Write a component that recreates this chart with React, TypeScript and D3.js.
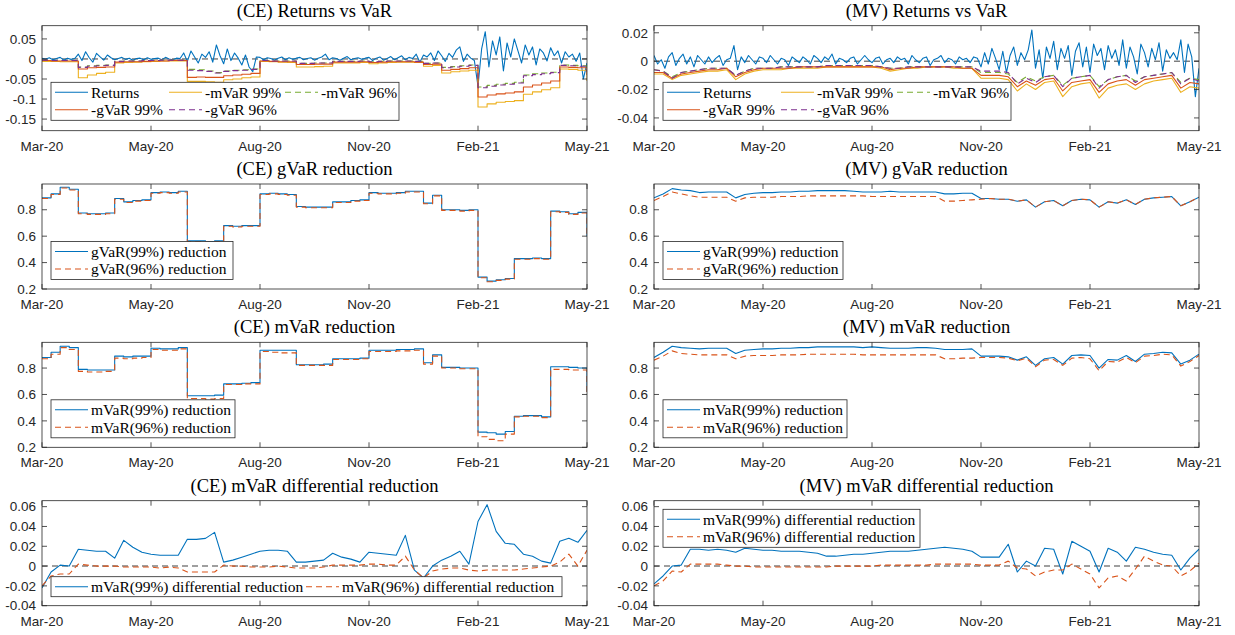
import React from "react";
import * as d3 from "d3";

// trading-day axis: 0..300, ticks every 60 days
const tickDays = [0, 60, 120, 180, 240, 300];
const tickLabels = ["Mar-20", "May-20", "Aug-20", "Nov-20", "Feb-21", "May-21"];
const RET_STEP = 2; // returns sampled every 2 days
const STEP = 5; // other series sampled every 5 days

// ---- (CE) returns vs VaR ----
const ceReturns = [
  0.002, -0.001, 0.003, -0.002, 0.001, 0.004, -0.003, 0.002, -0.001, 0.001,
  0.012, -0.004, 0.018, 0.003, -0.008, 0.014, 0.005, -0.003, 0.01,
  0.003, -0.002, 0.001, 0.004, -0.001, 0.002, -0.003, 0.001, 0.002, -0.002,
  0.003, -0.001, 0.001, 0.002, -0.002, 0.004, 0.0, -0.002, 0.002, 0.001,
  0.015, -0.006, 0.02, 0.005, -0.01, 0.012, 0.004, 0.018, -0.008, 0.035,
  0.008, -0.012, 0.025, -0.004, 0.015, 0.002, -0.015, 0.01, -0.02, -0.032, 0.005,
  0.004, -0.002, 0.003, 0.001, -0.003, 0.002, 0.005, -0.002, 0.003, -0.001,
  0.002, 0.004, -0.002, 0.001, 0.003, -0.003, 0.002, 0.005, 0.012, -0.002,
  0.003, 0.001, -0.003, 0.002, 0.006, -0.002, 0.001, 0.003, -0.001, 0.002,
  0.004, -0.004, 0.002, 0.005, -0.003, 0.001, 0.006, -0.002, 0.003, 0.008, -0.002, 0.004, 0.001,
  0.012, -0.008, 0.01, 0.005, 0.015, -0.004, 0.02, 0.008, -0.006, 0.014,
  0.004, 0.022, 0.03, -0.006, 0.012, 0.002, -0.004,
  -0.068, 0.025, 0.068, -0.02, 0.045, 0.01, 0.055, -0.03, 0.04, 0.005,
  0.05, 0.02, -0.01, 0.035, 0.01, 0.03, -0.015, 0.025, 0.015, -0.005,
  0.028, 0.008, 0.02, -0.01, 0.018, 0.005, 0.012, -0.006, 0.015, -0.05, -0.01,
];
const ceMVaR99 = [
  -0.006, -0.006, -0.007, -0.007, -0.047, -0.040, -0.036, -0.033, -0.010, -0.009,
  -0.008, -0.007, -0.006, -0.005, -0.005, -0.005, -0.056, -0.056, -0.057, -0.058,
  -0.052, -0.050, -0.047, -0.045, -0.006, -0.007, -0.008, -0.009, -0.020, -0.020,
  -0.019, -0.018, -0.010, -0.010, -0.010, -0.009, -0.012, -0.010, -0.009, -0.008,
  -0.008, -0.009, -0.018, -0.016, -0.035, -0.032, -0.030, -0.028, -0.120, -0.112,
  -0.108, -0.106, -0.104, -0.088, -0.082, -0.077, -0.072, -0.025, -0.026, -0.028,
  -0.055,
];
const ceMVaR96 = [
  -0.003, -0.004, -0.004, -0.004, -0.020, -0.017, -0.016, -0.015, -0.006, -0.005,
  -0.005, -0.004, -0.004, -0.003, -0.003, -0.003, -0.026, -0.027, -0.030, -0.034,
  -0.030, -0.028, -0.027, -0.025, -0.004, -0.005, -0.005, -0.005, -0.011, -0.011,
  -0.010, -0.010, -0.006, -0.006, -0.006, -0.005, -0.007, -0.006, -0.005, -0.005,
  -0.005, -0.006, -0.011, -0.010, -0.021, -0.019, -0.017, -0.015, -0.070, -0.066,
  -0.063, -0.061, -0.058, -0.040, -0.037, -0.035, -0.033, -0.015, -0.016, -0.017,
  -0.030,
];
const ceGVaR99 = [
  -0.004, -0.005, -0.005, -0.005, -0.025, -0.022, -0.021, -0.020, -0.008, -0.007,
  -0.007, -0.006, -0.005, -0.005, -0.004, -0.004, -0.046, -0.045, -0.046, -0.046,
  -0.042, -0.040, -0.038, -0.036, -0.005, -0.006, -0.007, -0.007, -0.014, -0.014,
  -0.013, -0.013, -0.008, -0.008, -0.008, -0.007, -0.009, -0.008, -0.007, -0.007,
  -0.007, -0.008, -0.014, -0.013, -0.028, -0.026, -0.024, -0.022, -0.095, -0.090,
  -0.087, -0.085, -0.082, -0.070, -0.065, -0.060, -0.055, -0.020, -0.021, -0.022,
  -0.040,
];
const ceGVaR96 = [
  -0.003, -0.004, -0.004, -0.004, -0.021, -0.018, -0.017, -0.016, -0.006, -0.005,
  -0.005, -0.004, -0.004, -0.003, -0.003, -0.003, -0.028, -0.029, -0.031, -0.035,
  -0.031, -0.029, -0.028, -0.026, -0.004, -0.005, -0.005, -0.005, -0.011, -0.011,
  -0.010, -0.010, -0.006, -0.006, -0.006, -0.005, -0.007, -0.006, -0.005, -0.005,
  -0.005, -0.006, -0.011, -0.010, -0.022, -0.020, -0.018, -0.016, -0.072, -0.068,
  -0.065, -0.063, -0.060, -0.042, -0.039, -0.037, -0.034, -0.016, -0.017, -0.018,
  -0.032,
];

// ---- (MV) returns vs VaR ----
const mvReturns = [
  0.004, -0.002, 0.001, -0.005, 0.003, 0.006, -0.003, 0.002, 0.005, -0.002,
  0.003, -0.004, 0.004, 0.001, -0.002, 0.003, -0.001, 0.002, 0.004, -0.003,
  0.001, 0.002, 0.011, -0.006, 0.003, -0.001, 0.004, 0.001, -0.002, 0.003,
  0.002, -0.001, 0.004, 0.001, -0.002, 0.002, 0.001, -0.003, 0.003, 0.001,
  -0.001, 0.003, 0.001, -0.002, 0.004,
  0.002, -0.001, 0.003, 0.001, 0.005, -0.002, 0.002, 0.001, -0.001, 0.002,
  0.003, -0.002, 0.001, 0.004, 0.001, -0.001, 0.002, 0.003, -0.002, 0.001,
  0.002, -0.001, 0.003, 0.001, 0.002, -0.002, 0.004, 0.001, -0.001, 0.002,
  0.003, -0.003, 0.001, 0.002, 0.004, -0.001, 0.002, 0.001, -0.002, 0.003,
  0.001, 0.002, -0.001, 0.003, 0.002,
  -0.004, 0.006, -0.002, 0.009, 0.002, -0.006, 0.007, -0.008, 0.004, 0.010,
  -0.003, 0.006, 0.001, 0.008,
  0.022,
  -0.005, 0.008, -0.012, 0.010, 0.002, 0.014, -0.006, 0.009, 0.002, 0.011,
  -0.010, 0.007, 0.013, -0.004, 0.010, -0.008, 0.012, 0.004, 0.009, -0.006,
  0.011, 0.002, 0.008, -0.003, 0.015, -0.005, 0.01, 0.003, -0.009, 0.012,
  0.006, -0.004, 0.009, 0.001, 0.013, -0.007, 0.008, 0.002, 0.006, 0.001,
  0.015, -0.008, 0.012, 0.003, -0.025, -0.005,
];
const mvMVaR99 = [
  -0.009, -0.009, -0.013, -0.010, -0.009, -0.008, -0.007, -0.007, -0.006, -0.013,
  -0.009, -0.007, -0.006, -0.006, -0.006, -0.005, -0.005, -0.005, -0.005, -0.004,
  -0.004, -0.004, -0.004, -0.004, -0.004, -0.005, -0.007, -0.006, -0.005, -0.005,
  -0.004, -0.004, -0.004, -0.005, -0.005, -0.005, -0.012, -0.012, -0.012, -0.013,
  -0.021, -0.016, -0.020, -0.015, -0.014, -0.025, -0.018, -0.016, -0.015, -0.026,
  -0.019, -0.017, -0.016, -0.020, -0.016, -0.014, -0.013, -0.012, -0.022, -0.018,
  -0.019,
];
const mvMVaR96 = [
  -0.006, -0.007, -0.011, -0.008, -0.007, -0.006, -0.005, -0.005, -0.005, -0.010,
  -0.007, -0.005, -0.005, -0.005, -0.004, -0.004, -0.004, -0.004, -0.004, -0.003,
  -0.003, -0.003, -0.003, -0.003, -0.003, -0.004, -0.005, -0.005, -0.004, -0.004,
  -0.004, -0.004, -0.004, -0.004, -0.004, -0.004, -0.008, -0.008, -0.008, -0.009,
  -0.015, -0.011, -0.014, -0.011, -0.010, -0.017, -0.012, -0.011, -0.010, -0.018,
  -0.013, -0.011, -0.010, -0.014, -0.011, -0.010, -0.009, -0.008, -0.015, -0.012,
  -0.013,
];
const mvGVaR99 = [
  -0.008, -0.008, -0.012, -0.009, -0.008, -0.007, -0.006, -0.006, -0.005, -0.011,
  -0.008, -0.006, -0.005, -0.005, -0.005, -0.005, -0.004, -0.004, -0.004, -0.004,
  -0.004, -0.004, -0.004, -0.004, -0.004, -0.004, -0.006, -0.005, -0.005, -0.004,
  -0.004, -0.004, -0.004, -0.004, -0.005, -0.005, -0.010, -0.010, -0.010, -0.011,
  -0.018, -0.014, -0.017, -0.013, -0.012, -0.021, -0.015, -0.014, -0.013, -0.022,
  -0.016, -0.014, -0.013, -0.017, -0.013, -0.012, -0.011, -0.010, -0.019, -0.015,
  -0.016,
];
const mvGVaR96 = [
  -0.006, -0.007, -0.012, -0.008, -0.007, -0.006, -0.005, -0.005, -0.005, -0.010,
  -0.007, -0.005, -0.005, -0.005, -0.004, -0.004, -0.004, -0.004, -0.004, -0.003,
  -0.003, -0.003, -0.003, -0.003, -0.003, -0.004, -0.005, -0.005, -0.004, -0.004,
  -0.004, -0.004, -0.004, -0.004, -0.004, -0.004, -0.007, -0.007, -0.007, -0.008,
  -0.016, -0.012, -0.015, -0.011, -0.010, -0.018, -0.012, -0.011, -0.010, -0.019,
  -0.013, -0.011, -0.010, -0.015, -0.011, -0.010, -0.009, -0.008, -0.016, -0.012,
  -0.014,
];

// ---- gVaR reductions ----
const ceGVaR99Red = [
  0.89, 0.92, 0.97, 0.955, 0.775, 0.77, 0.77, 0.775, 0.885, 0.86,
  0.87, 0.875, 0.93, 0.935, 0.93, 0.94, 0.565, 0.565, 0.56, 0.565,
  0.68, 0.675, 0.68, 0.68, 0.92, 0.925, 0.92, 0.915, 0.825, 0.82,
  0.82, 0.82, 0.86, 0.86, 0.87, 0.875, 0.93, 0.925, 0.925, 0.93,
  0.94, 0.94, 0.85, 0.91, 0.80, 0.80, 0.795, 0.80, 0.29, 0.26,
  0.27, 0.28, 0.43, 0.43, 0.435, 0.43, 0.79, 0.785, 0.77, 0.78,
  0.60,
];
const ceGVaR96Red = [
  0.885, 0.915, 0.965, 0.95, 0.77, 0.765, 0.765, 0.77, 0.88, 0.855,
  0.865, 0.87, 0.925, 0.93, 0.925, 0.935, 0.56, 0.56, 0.555, 0.56,
  0.675, 0.67, 0.675, 0.675, 0.915, 0.92, 0.915, 0.91, 0.82, 0.815,
  0.815, 0.815, 0.855, 0.855, 0.865, 0.87, 0.925, 0.92, 0.92, 0.925,
  0.935, 0.935, 0.845, 0.905, 0.795, 0.795, 0.79, 0.795, 0.285, 0.255,
  0.265, 0.275, 0.425, 0.425, 0.43, 0.425, 0.785, 0.78, 0.765, 0.775,
  0.59,
];
const mvGVaR99Red = [
  0.89, 0.92, 0.96, 0.95, 0.945, 0.93, 0.935, 0.935, 0.935, 0.89,
  0.915, 0.925, 0.93, 0.93, 0.935, 0.935, 0.94, 0.94, 0.945, 0.945,
  0.945, 0.945, 0.94, 0.935, 0.935, 0.935, 0.94, 0.935, 0.935, 0.935,
  0.935, 0.935, 0.92, 0.92, 0.925, 0.925, 0.885, 0.885, 0.88, 0.88,
  0.865, 0.875, 0.82, 0.86, 0.87, 0.83, 0.87, 0.88, 0.875, 0.82,
  0.86, 0.85, 0.875, 0.84, 0.88, 0.89, 0.895, 0.90, 0.83, 0.86,
  0.895,
];
const mvGVaR96Red = [
  0.87, 0.90, 0.935, 0.92, 0.905, 0.895, 0.895, 0.895, 0.895, 0.865,
  0.89, 0.895, 0.895, 0.895, 0.90, 0.90, 0.90, 0.905, 0.905, 0.905,
  0.905, 0.905, 0.905, 0.905, 0.90, 0.90, 0.90, 0.90, 0.90, 0.90,
  0.90, 0.90, 0.865, 0.865, 0.87, 0.875, 0.88, 0.885, 0.88, 0.88,
  0.865, 0.875, 0.82, 0.86, 0.87, 0.83, 0.87, 0.88, 0.875, 0.82,
  0.86, 0.85, 0.875, 0.84, 0.88, 0.89, 0.895, 0.90, 0.83, 0.86,
  0.895,
];

// ---- mVaR reductions ----
const ceMVaR99Red = [
  0.88, 0.92, 0.965, 0.955, 0.79, 0.785, 0.785, 0.785, 0.89, 0.885,
  0.89, 0.89, 0.95, 0.945, 0.945, 0.955, 0.59, 0.59, 0.59, 0.595,
  0.68, 0.68, 0.685, 0.69, 0.935, 0.935, 0.935, 0.935, 0.825, 0.825,
  0.825, 0.83, 0.87, 0.87, 0.87, 0.875, 0.935, 0.935, 0.935, 0.94,
  0.94, 0.945, 0.84, 0.90, 0.805, 0.805, 0.80, 0.80, 0.315, 0.31,
  0.30, 0.32, 0.435, 0.44, 0.44, 0.43, 0.81, 0.81, 0.805, 0.80,
  0.62,
];
const ceMVaR96Red = [
  0.87, 0.905, 0.955, 0.94, 0.775, 0.77, 0.77, 0.775, 0.875, 0.87,
  0.875, 0.88, 0.94, 0.935, 0.935, 0.945, 0.57, 0.57, 0.565, 0.57,
  0.675, 0.675, 0.68, 0.68, 0.925, 0.92, 0.915, 0.915, 0.82, 0.82,
  0.82, 0.82, 0.865, 0.865, 0.865, 0.87, 0.925, 0.925, 0.925, 0.93,
  0.93, 0.935, 0.83, 0.89, 0.80, 0.80, 0.795, 0.795, 0.28, 0.26,
  0.25, 0.30, 0.43, 0.435, 0.435, 0.425, 0.79, 0.79, 0.785, 0.785,
  0.60,
];
const mvMVaR99Red = [
  0.88, 0.92, 0.965, 0.955, 0.95, 0.945, 0.95, 0.95, 0.95, 0.91,
  0.935, 0.94, 0.945, 0.945, 0.95, 0.95, 0.955, 0.955, 0.96, 0.96,
  0.96, 0.96, 0.96, 0.955, 0.96, 0.955, 0.95, 0.95, 0.95, 0.955,
  0.955, 0.95, 0.94, 0.94, 0.94, 0.945, 0.89, 0.89, 0.89, 0.885,
  0.86, 0.885, 0.82, 0.87, 0.88, 0.83, 0.895, 0.90, 0.895, 0.80,
  0.865, 0.86, 0.895, 0.85, 0.905, 0.91, 0.92, 0.915, 0.83, 0.86,
  0.905,
];
const mvMVaR96Red = [
  0.86, 0.89, 0.93, 0.91, 0.905, 0.90, 0.90, 0.90, 0.90, 0.87,
  0.89, 0.895, 0.895, 0.895, 0.90, 0.90, 0.90, 0.905, 0.905, 0.905,
  0.905, 0.905, 0.905, 0.90, 0.90, 0.90, 0.90, 0.90, 0.90, 0.90,
  0.90, 0.90, 0.87, 0.87, 0.875, 0.875, 0.88, 0.88, 0.88, 0.875,
  0.855, 0.875, 0.81, 0.86, 0.865, 0.82, 0.875, 0.88, 0.87, 0.78,
  0.85, 0.845, 0.88, 0.84, 0.89, 0.895, 0.905, 0.90, 0.815, 0.85,
  0.895,
];

// ---- mVaR differential reductions ----
const ceDiff99 = [
  -0.022, -0.006, 0.001, 0.0, 0.017, 0.016, 0.015, 0.015, 0.008, 0.026,
  0.019, 0.014, 0.012, 0.011, 0.011, 0.011, 0.027, 0.027, 0.028, 0.034,
  0.004, 0.006, 0.009, 0.012, 0.015, 0.016, 0.016, 0.015, 0.004, 0.004,
  0.005, 0.006, 0.013, 0.009, 0.007, 0.004, 0.014, 0.013, 0.012, 0.011,
  0.031, -0.004, -0.012, 0.0, 0.006, 0.01, 0.015, 0.002, 0.045, 0.062,
  0.035, 0.023, 0.022, 0.012, 0.010, 0.005, 0.003, 0.025, 0.028, 0.024,
  0.036,
];
const ceDiff96 = [
  -0.02, -0.01, -0.008, -0.008, 0.002, 0.001, 0.0, 0.0, 0.0, -0.001,
  -0.001, -0.001, -0.001, -0.002, -0.001, -0.002, -0.006, -0.006, -0.006, -0.006,
  0.001, 0.0, 0.0, -0.001, -0.001, -0.001, 0.0, -0.001, -0.002, -0.002,
  -0.002, -0.001, 0.001, 0.001, 0.001, 0.001, 0.002, 0.002, 0.001, 0.001,
  0.010, -0.004, -0.012, -0.005, -0.003, -0.002, -0.002, -0.004, -0.005, -0.004,
  -0.004, -0.004, -0.004, -0.003, -0.002, -0.001, 0.0, 0.004, 0.012, 0.0,
  0.016,
];
const mvDiff99 = [
  -0.018, -0.01, 0.0, 0.001, 0.017, 0.017, 0.016, 0.017, 0.016, 0.014,
  0.018, 0.017, 0.016, 0.016, 0.015, 0.015, 0.015, 0.014, 0.013, 0.010,
  0.010, 0.011, 0.012, 0.012, 0.013, 0.014, 0.015, 0.015, 0.015, 0.016,
  0.017, 0.018, 0.019, 0.018, 0.017, 0.015, 0.009, 0.009, 0.009, 0.022,
  -0.006, 0.005, 0.0, 0.018, 0.017, -0.008, 0.025, 0.020, 0.015, -0.006,
  0.018, 0.014, 0.005, 0.019, 0.017, 0.014, 0.012, 0.011, -0.004, 0.008,
  0.017,
];
const mvDiff96 = [
  -0.02, -0.015, -0.005, -0.006, 0.002, 0.002, 0.002, 0.002, 0.001, 0.0,
  0.0, -0.001, -0.001, -0.001, -0.001, -0.001, -0.001, -0.001, -0.001, -0.001,
  0.0, 0.0, 0.0, 0.0, 0.0, 0.001, 0.001, 0.001, 0.001, 0.001,
  0.001, 0.002, 0.002, 0.002, 0.002, 0.002, 0.001, 0.001, 0.001, 0.005,
  -0.002, -0.003, -0.010, -0.006, -0.004, -0.004, 0.002, -0.003, -0.008, -0.022,
  -0.012, -0.010, -0.015, -0.003, 0.010, 0.005, 0.001, 0.0, -0.010, -0.005,
  0.003,
];

// MATLAB default colours
const BLUE = "#0072BD";
const RED = "#D95319";
const YELLOW = "#EDB120";
const PURPLE = "#7E2F8E";
const GREEN = "#77AC30";
const AX = "#262626";
const DASH = "6,4";

const SERIF = '"Liberation Serif", "DejaVu Serif", "Times New Roman", serif';
const SANS = '"Liberation Sans", Arial, Helvetica, sans-serif';

const W = 545;
const H = 105;
const COLS = [42, 654];
const ROWS = [25.7, 184, 342.3, 500.7];

const fmt = (v) => String(+v.toFixed(2));

type Series = { name: string; values: number[]; step: number; color: string; dash?: string; stepped?: boolean };

function Panel({ left, top, title, yDomain, yTicks, series, zero, legend }) {
  const x = d3.scaleLinear().domain([0, 300]).range([left, left + W]);
  const y = d3.scaleLinear().domain(yDomain).range([top + H, top]);
  const clipId = `clip-${left}-${Math.round(top)}`;

  const lx = left + 9;
  const ly = top + legend.dy;
  const nRows = legend.rows.length;
  const lh = nRows === 1 ? 20 : 38;

  return (
    <g>
      <defs>
        <clipPath id={clipId}>
          <rect x={left} y={top} width={W} height={H} />
        </clipPath>
      </defs>
      <text x={left + W / 2} y={top - 9} textAnchor="middle" style={{ fontFamily: SERIF, fontSize: 18.5 }} fill="#000">
        {title}
      </text>
      <g clipPath={`url(#${clipId})`}>
        {zero && (
          <line
            x1={left}
            x2={left + W}
            y1={y(0)}
            y2={y(0)}
            stroke={zero.color}
            strokeWidth={zero.width}
            strokeDasharray={DASH}
          />
        )}
        {series.map((s: Series) => {
          const line = d3
            .line<number>()
            .x((_, i) => x(i * s.step))
            .y((v) => y(v))
            .curve(s.stepped ? d3.curveStepAfter : d3.curveLinear);
          return (
            <path
              key={s.name}
              d={line(s.values) || ""}
              fill="none"
              stroke={s.color}
              strokeWidth={1.1}
              strokeDasharray={s.dash}
              strokeLinejoin="round"
            />
          );
        })}
      </g>
      <rect x={left} y={top} width={W} height={H} fill="none" stroke={AX} strokeWidth={0.8} />
      {tickDays.map((d, i) => (
        <g key={d}>
          <line x1={x(d)} x2={x(d)} y1={top + H} y2={top + H - 5} stroke={AX} strokeWidth={0.8} />
          <line x1={x(d)} x2={x(d)} y1={top} y2={top + 5} stroke={AX} strokeWidth={0.8} />
          <text x={x(d)} y={top + H + 20} textAnchor="middle" style={{ fontFamily: SANS, fontSize: 13.5 }} fill={AX}>
            {tickLabels[i]}
          </text>
        </g>
      ))}
      {yTicks.map((t) => (
        <g key={t}>
          <line x1={left} x2={left + 5} y1={y(t)} y2={y(t)} stroke={AX} strokeWidth={0.8} />
          <line x1={left + W} x2={left + W - 5} y1={y(t)} y2={y(t)} stroke={AX} strokeWidth={0.8} />
          <text x={left - 6} y={y(t)} dy="0.35em" textAnchor="end" style={{ fontFamily: SANS, fontSize: 13.5 }} fill={AX}>
            {fmt(t)}
          </text>
        </g>
      ))}
      <rect x={lx} y={ly} width={legend.width} height={lh} fill="#fff" stroke={AX} strokeWidth={0.8} />
      {legend.rows.map((row, r) =>
        row.map((s: Series, c) => {
          const x1 = lx + 4 + legend.cols[c];
          const cy = ly + 10 + r * 17.5;
          return (
            <g key={s.name}>
              <line x1={x1} x2={x1 + 33} y1={cy} y2={cy} stroke={s.color} strokeWidth={1.1} strokeDasharray={s.dash} />
              <text x={x1 + 36} y={cy} dy="0.35em" style={{ fontFamily: SERIF, fontSize: 15.5 }} fill="#000">
                {s.name}
              </text>
            </g>
          );
        })
      )}
    </g>
  );
}

export default function App() {
  const ser = (name, values, step, color, dash?, stepped?) => ({ name, values, step, color, dash, stepped });

  const ceRet = ser("Returns", ceReturns, RET_STEP, BLUE);
  const ceM99 = ser("-mVaR 99%", ceMVaR99, STEP, YELLOW, undefined, true);
  const ceM96 = ser("-mVaR 96%", ceMVaR96, STEP, GREEN, DASH, true);
  const ceG99 = ser("-gVaR 99%", ceGVaR99, STEP, RED, undefined, true);
  const ceG96 = ser("-gVaR 96%", ceGVaR96, STEP, PURPLE, DASH, true);

  const mvRet = ser("Returns", mvReturns, RET_STEP, BLUE);
  const mvM99 = ser("-mVaR 99%", mvMVaR99, STEP, YELLOW);
  const mvM96 = ser("-mVaR 96%", mvMVaR96, STEP, GREEN, DASH);
  const mvG99 = ser("-gVaR 99%", mvGVaR99, STEP, RED);
  const mvG96 = ser("-gVaR 96%", mvGVaR96, STEP, PURPLE, DASH);

  const redTicks = [0.2, 0.4, 0.6, 0.8];
  const redDomain = [0.2, 0.995];
  const diffTicks = [-0.04, -0.02, 0, 0.02, 0.04, 0.06];
  const diffDomain = [-0.04, 0.066];

  const panels = [
    {
      left: COLS[0], top: ROWS[0], title: "(CE) Returns vs VaR",
      yDomain: [-0.179, 0.083], yTicks: [-0.15, -0.1, -0.05, 0, 0.05],
      series: [ceRet, ceM99, ceM96, ceG99, ceG96],
      zero: { color: "#404040", width: 1 },
      legend: { dy: 56.6, width: 348, cols: [0, 114, 230], rows: [[ceRet, ceM99, ceM96], [ceG99, ceG96]] },
    },
    {
      left: COLS[1], top: ROWS[0], title: "(MV) Returns vs VaR",
      yDomain: [-0.049, 0.025], yTicks: [-0.04, -0.02, 0, 0.02],
      series: [mvRet, mvM99, mvM96, mvG99, mvG96],
      zero: { color: "#404040", width: 1 },
      legend: { dy: 56.6, width: 348, cols: [0, 114, 230], rows: [[mvRet, mvM99, mvM96], [mvG99, mvG96]] },
    },
  ];

  // [title, kind, 99% values, 96% values, column, row, legend width, stepped]
  const pairs = [
    ["(CE) gVaR reduction", "gVaR", ceGVaR99Red, ceGVaR96Red, 0, 1, 182, true],
    ["(MV) gVaR reduction", "gVaR", mvGVaR99Red, mvGVaR96Red, 1, 1, 180, false],
    ["(CE) mVaR reduction", "mVaR", ceMVaR99Red, ceMVaR96Red, 0, 2, 184, true],
    ["(MV) mVaR reduction", "mVaR", mvMVaR99Red, mvMVaR96Red, 1, 2, 184, false],
  ];
  pairs.forEach(([title, kind, v99, v96, c, r, w, st]) => {
    const s99 = ser(`${kind}(99%) reduction`, v99, STEP, BLUE, undefined, st);
    const s96 = ser(`${kind}(96%) reduction`, v96, STEP, RED, DASH, st);
    panels.push({
      left: COLS[c as number], top: ROWS[r as number], title: title as string,
      yDomain: redDomain, yTicks: redTicks, series: [s99, s96], zero: null,
      legend: { dy: 57.5, width: w as number, cols: [0], rows: [[s99], [s96]] },
    });
  });

  const ceD99 = ser("mVaR(99%) differential reduction", ceDiff99, STEP, BLUE);
  const ceD96 = ser("mVaR(96%) differential reduction", ceDiff96, STEP, RED, DASH);
  const mvD99 = ser("mVaR(99%) differential reduction", mvDiff99, STEP, BLUE);
  const mvD96 = ser("mVaR(96%) differential reduction", mvDiff96, STEP, RED, DASH);
  panels.push({
    left: COLS[0], top: ROWS[3], title: "(CE) mVaR differential reduction",
    yDomain: diffDomain, yTicks: diffTicks, series: [ceD99, ceD96],
    zero: { color: "#808080", width: 1.5 },
    legend: { dy: 76, width: 511, cols: [0, 251], rows: [[ceD99, ceD96]] },
  });
  panels.push({
    left: COLS[1], top: ROWS[3], title: "(MV) mVaR differential reduction",
    yDomain: diffDomain, yTicks: diffTicks, series: [mvD99, mvD96],
    zero: { color: "#808080", width: 1.5 },
    legend: { dy: 8.6, width: 257, cols: [0], rows: [[mvD99], [mvD96]] },
  });

  return (
    <svg width={1235} height={635} style={{ position: "absolute", left: 0, top: 0, background: "#fff" }}>
      <rect width={1235} height={635} fill="#fff" />
      {panels.map((p) => (
        <Panel key={p.title} {...p} />
      ))}
    </svg>
  );
}
